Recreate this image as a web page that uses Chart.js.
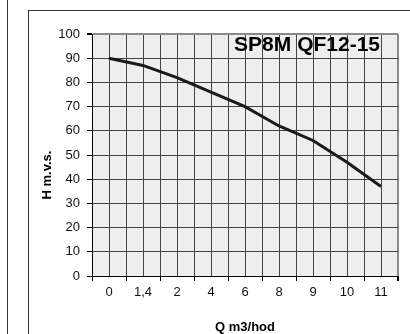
<!DOCTYPE html>
<html>
<head>
<meta charset="utf-8">
<script src="https://cdn.jsdelivr.net/npm/chart.js@4"></script>
<style>
  html, body { margin: 0; padding: 0; background: #fff; }
  #wrap { position: relative; width: 410px; height: 334px; overflow: hidden; }
  #frame { position: absolute; left: 28px; top: 10px; width: 400px; height: 340px;
           border-left: 1px solid #333; border-top: 1px solid #333; }
  #edge { position: absolute; left: 7px; top: 0; width: 0; height: 334px; border-left: 1px solid #333; }
  canvas { position: absolute; left: 0; top: 0; }
</style>
</head>
<body>
<div id="wrap">
  <div id="edge"></div>
  <div id="frame"></div>
  <canvas id="pump-curve" width="410" height="334"></canvas>
</div>
<script>
// Q-H curve of the pump
const flowLabels = ['0', '1,4', '2', '4', '6', '8', '9', '10', '11'];
const headValues = [90, 87, 82, 76, 70, 62, 56, 47, 37];
const headTicks = [0, 10, 20, 30, 40, 50, 60, 70, 80, 90, 100];

const chartTitle = 'SP8M QF12-15';
const xTitle = 'Q m3/hod';
const yTitle = 'H m.v.s.';

const FONT = "'Liberation Sans', Arial, sans-serif";

// grey plot background + texts inside/left of the plot
const plotFrame = {
    id: 'plotFrame',
    beforeDraw(chart) {
        const { ctx, chartArea: a } = chart;
        ctx.save();
        ctx.fillStyle = '#eeeeee';
        ctx.fillRect(a.left, a.top, a.right - a.left, a.bottom - a.top);
        ctx.restore();
    },
    afterDraw(chart) {
        const { ctx, chartArea: a } = chart;
        ctx.save();
        // model name in the upper right corner of the plot
        ctx.font = 'bold 21px ' + FONT;
        ctx.fillStyle = '#000';
        ctx.textAlign = 'right';
        ctx.textBaseline = 'middle';
        ctx.fillText(chartTitle, a.right - 18, a.top + 11);

        // vertical axis title
        ctx.translate(47, 175);
        ctx.rotate(-Math.PI / 2);
        ctx.font = 'bold 13px ' + FONT;
        ctx.textAlign = 'center';
        ctx.fillText(yTitle, 0, 0);
        ctx.restore();
    }
};

const ctx = document.getElementById('pump-curve').getContext('2d');

new Chart(ctx, {
    type: 'line',
    data: {
        datasets: [{
            label: 'H',
            data: headValues.map((h, i) => ({ x: i, y: h })),
            borderColor: '#1a1a1a',
            borderWidth: 3,
            pointRadius: 0,
            tension: 0,
            fill: false
        }]
    },
    options: {
        responsive: false,
        animation: false,
        layout: { padding: { top: 34, right: 12, bottom: 0, left: 0 } },
        plugins: {
            legend: { display: false },
            tooltip: { enabled: false }
        },
        scales: {
            x: {
                type: 'linear',
                min: -0.5,
                max: flowLabels.length - 0.5,
                afterBuildTicks: (scale) => {
                    const t = [];
                    for (let v = -0.5; v <= flowLabels.length - 0.5; v += 0.5) t.push({ value: v });
                    scale.ticks = t;
                },
                afterFit: (scale) => { scale.height = 58; },
                ticks: {
                    autoSkip: false,
                    maxRotation: 0,
                    padding: 4,
                    color: '#111',
                    font: { family: FONT, size: 13 },
                    callback: (v) => Number.isInteger(v) ? flowLabels[v] : ''
                },
                grid: {
                    color: (c) => c.tick && c.tick.value === flowLabels.length - 0.5 ? '#8a8a8a' : '#444',
                    lineWidth: (c) => c.tick && c.tick.value === flowLabels.length - 0.5 ? 2 : 1,
                    tickLength: 5,
                    tickColor: (c) => c.tick && Number.isInteger(c.tick.value) ? 'rgba(0,0,0,0)' : '#000'
                },
                border: { color: '#000', width: 1 },
                title: {
                    display: true,
                    text: xTitle,
                    color: '#000',
                    font: { family: FONT, size: 13, weight: 'bold' },
                    padding: { top: 0, bottom: -1 }
                }
            },
            y: {
                min: 0,
                max: 100,
                afterBuildTicks: (scale) => { scale.ticks = headTicks.map(v => ({ value: v })); },
                afterFit: (scale) => { scale.width = 92; },
                ticks: {
                    padding: 7,
                    color: '#111',
                    font: { family: FONT, size: 13 }
                },
                grid: {
                    color: (c) => c.tick && c.tick.value === 100 ? '#8a8a8a' : '#444',
                    lineWidth: (c) => c.tick && c.tick.value === 100 ? 2 : 1,
                    tickLength: 5,
                    tickColor: '#000'
                },
                border: { color: '#000', width: 1 }
            }
        }
    },
    plugins: [plotFrame]
});
</script>
</body>
</html>
